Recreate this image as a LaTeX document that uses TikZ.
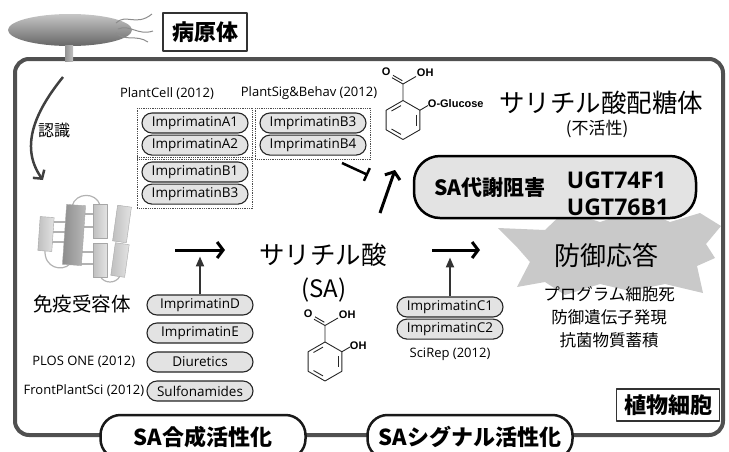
\documentclass[tikz,border=0pt]{standalone}
\usepackage{fontspec}
\setmainfont{Open Sans}
\newfontfamily\jpfont{Noto Sans CJK JP}
\newfontfamily\chemfont{Liberation Sans}
\usetikzlibrary{arrows.meta,shapes.misc,positioning,fit}

\definecolor{cellline}{HTML}{505050}
\definecolor{pillfill}{HTML}{E3E3E3}
\definecolor{burstfill}{HTML}{C9C9C9}

\newcommand{\jsize}[1]{\jpfont\fontsize{#1}{#1}\selectfont}

% benzene ring, carboxyl on top, one group at the upper right corner
\newcommand{\benzoate}[3]{%
	\begin{scope}[shift={(#1,#2)}, line width=0.9pt, black!85]
		\draw (0,-19.5) -- (16.9,-9.75) -- (16.9,9.75) -- (0,19.5) -- (-16.9,9.75) -- (-16.9,-9.75) -- cycle;
		\draw (13.5,-5.5) -- (13.5,5.5);
		\draw (-2,14.4) -- (-11.5,9);
		\draw (-11.5,-9) -- (-2,-14.4);
		\draw (0,-19.5) -- (0,-36) -- (13,-43.5);
		\draw (0,-36) -- (-11,-42.3);
		\draw (-0.7,-39.3) -- (-10,-44.7);
		\draw (16.9,-9.75) -- (25,-14.5);
		\node[chem, anchor=east] (oxo) at (-11.5,-48) {O};
		\node[chem, anchor=west] (hydroxy) at (13,-47) {OH};
		\node[chem, anchor=west] (side) at (24,-16) {#3};
	\end{scope}}

\tikzset{
	pill/.style={draw=black!85, line width=1.1pt, fill=pillfill, rounded rectangle,
		minimum width=106pt, minimum height=20pt, inner sep=0pt,
		font=\fontsize{13.5}{15}\selectfont},
	refgroup/.style={draw=black!70, densely dotted, line width=0.8pt, inner sep=4pt},
	cite/.style={font=\fontsize{13}{15}\selectfont, inner sep=1pt},
	chem/.style={font=\chemfont\bfseries\fontsize{11}{11}\selectfont, inner sep=0.5pt, text=black},
	labelbox/.style={draw=black!80, line width=1.2pt, fill=white, inner sep=0pt,
		font=\jsize{22}\bfseries},
	stagebox/.style={draw=black!90, line width=2.5pt, fill=white, rounded corners=20pt,
		minimum width=205pt, minimum height=44pt, font=\jsize{22}\bfseries},
	metabox/.style={draw=black, line width=2.5pt, fill=gray!22, rounded corners=26pt,
		minimum width=282pt, minimum height=62pt},
	flow/.style={line width=3pt, -{Straight Barb[length=6pt,width=16pt]}},
	boost/.style={line width=2pt, black!80, -{Triangle[length=10pt,width=8pt]}},
	block/.style={line width=2.5pt, -{Bar[width=14pt]}},
	helix/.style={minimum width=14pt, inner sep=0pt, draw=gray!70, line width=0.4pt,
		left color=gray!50, right color=gray!22},
	darkhelix/.style={helix, minimum width=19pt, left color=gray!90, right color=gray!55},
	link/.style={gray!60, line width=1.2pt}
}

\begin{document}
\begin{tikzpicture}[x=1pt, y=-1pt, line join=round]
	\useasboundingbox (0,0) rectangle (729,451);
	
	% cell wall
	\draw[cellline, line width=4pt, rounded corners=14pt] (15,59) rectangle (723,435);
	
	% pathogen with its flagella
	\shade[top color=gray!45, bottom color=gray!80!black] (70,30) ellipse [x radius=62, y radius=16];
	\shade[left color=gray!85, right color=gray!50] (65,45) rectangle (73,61);
	\draw[black!45, line width=1pt] (116,23) .. controls (126,13) and (136,27) .. (152,14);
	\draw[black!45, line width=1pt] (118,29) .. controls (130,24) and (138,36) .. (153,31);
	\draw[black!45, line width=1pt] (116,33) .. controls (126,42) and (136,34) .. (148,42);
	\node[labelbox, minimum width=84pt, minimum height=38pt] (pathogen) at (205,32) {病原体};
	
	\draw[black!75, line width=2.5pt, -{Straight Barb[length=6pt,width=14pt]}]
		(63,77) .. controls (38,108) and (18,145) .. (43,180);
	\node[font=\jsize{16}] (recog) at (54,130) {認識};
	
	% immune receptor
	\foreach \y in {222,232,242} \draw[link] (46,\y) -- (74,\y);
	\foreach \y in {214,227,252,264} \draw[link] (74,\y) -- (100,\y);
	\draw[link] (72,206) .. controls (76,192) and (96,192) .. (100,205);
	\draw[link] (45,250) .. controls (44,268) and (62,272) .. (70,264);
	\draw[link] (100,276) .. controls (104,284) and (116,284) .. (120,276);
	\node[helix, minimum height=34pt, rotate=-4] (h1) at (46,234) {};
	\node[darkhelix, minimum height=60pt, rotate=-4] (h2) at (74,235) {};
	\node[helix, minimum height=34pt] (h3) at (100,221) {};
	\node[helix, minimum height=36pt, rotate=-8] (h4) at (122,224) {};
	\node[helix, minimum height=34pt] (h5) at (100,260) {};
	\node[helix, minimum height=33pt, rotate=-8] (h6) at (120,260) {};
	\node[font=\jsize{19.5}] (receptor) at (82,304) {免疫受容体};
	
	% inhibitors and their references
	\node[cite] (pc) at (167,94) {PlantCell (2012)};
	\node[cite] (psb) at (309,93) {PlantSig\&Behav (2012)};
	\node[pill] (a1) at (195,123) {ImprimatinA1};
	\node[pill, below=1pt of a1] (a2) {ImprimatinA2};
	\node[pill] (b1) at (195,172) {ImprimatinB1};
	\node[pill, below=1pt of b1] (b3) {ImprimatinB3};
	\node[pill] (b3s) at (313,123) {ImprimatinB3};
	\node[pill, below=1pt of b3s] (b4) {ImprimatinB4};
	\node[refgroup, fit=(a1)(a2)] (groupa) {};
	\node[refgroup, fit=(b1)(b3)] (groupb) {};
	\node[refgroup, fit=(b3s)(b4)] (groupc) {};
	
	\node[pill] (d) at (200,305) {ImprimatinD};
	\node[pill] (e) at (200,333) {ImprimatinE};
	\node[pill] (diur) at (200,362) {Diuretics};
	\node[pill] (sulfa) at (200,391) {Sulfonamides};
	\node[cite, left=10pt of diur] (plos) {PLOS ONE (2012)};
	\node[cite, left=1pt of sulfa] (fps) {FrontPlantSci (2012)};
	
	\node[pill] (c1) at (450,307) {ImprimatinC1};
	\node[pill, below=1pt of c1] (c2) {ImprimatinC2};
	\node[cite, below=7pt of c2] (scirep) {SciRep (2012)};
	
	% salicylic acid and its glucoside
	\node[font=\jsize{25.5}] (sa) at (323,255) {サリチル酸};
	\node[font=\jsize{24}] (saabbr) at (324,290) {(SA)};
	\benzoate{325}{361.5}{OH}
	\benzoate{403}{120}{O-Glucose}
	\node[font=\jsize{25.5}] (sag) at (601,103) {サリチル酸配糖体};
	\node[font=\jsize{17}] (inactive) at (597,129) {(不活性)};
	
	% defence response
	\fill[burstfill] (498,228) -- (545,230) -- (565,211) -- (600,222) -- (640,209) -- (670,222)
		-- (700,213) -- (721,226) -- (706,244) -- (715,258) -- (697,266) -- (703,293)
		-- (665,284) -- (630,291) -- (600,284) -- (565,295) -- (545,282) -- (517,287)
		-- (530,262) -- (516,246) -- cycle;
	\node[font=\jsize{26}] (defense) at (606,255) {防御応答};
	\node[font=\jpfont\fontsize{16.5}{23}\selectfont, align=center] (outcome) at (609,317)
		{プログラム細胞死\\防御遺伝子発現\\抗菌物質蓄積};
	
	\node[metabox] (ugt) at (555,187) {};
	\node[font=\jsize{21}\bfseries] (ugtlabel) at (490,188) {SA代謝阻害};
	\node[font=\bfseries\fontsize{23}{27}\selectfont, align=left] (ugtnames) at (618,194) {UGT74F1\\UGT76B1};
	
	% pathway arrows
	\coordinate (s1) at (175,250);
	\coordinate (s2) at (225,250);
	\coordinate (g1) at (432,250);
	\coordinate (g2) at (480,250);
	\coordinate (u1) at (380,213);
	\coordinate (u2) at (395,170);
	\coordinate (t1) at (342,163);
	\coordinate (t2) at (368,175);
	\draw[flow] (s1) -- (s2);
	\draw[flow] (g1) -- (g2);
	\draw[flow] (u1) -- (u2);
	\draw[block] (t1) -- (t2);
	\draw[boost] (d.north) -- ++(0,-38);
	\draw[boost] (c1.north) -- ++(0,-39);
	
	\node[labelbox, minimum width=103pt, minimum height=32pt] (cell) at (668,405) {植物細胞};
	\node[stagebox] (synth) at (203,437) {SA合成活性化};
	\node[stagebox] (signal) at (470,437) {SAシグナル活性化};
	
\end{tikzpicture}
\end{document}
